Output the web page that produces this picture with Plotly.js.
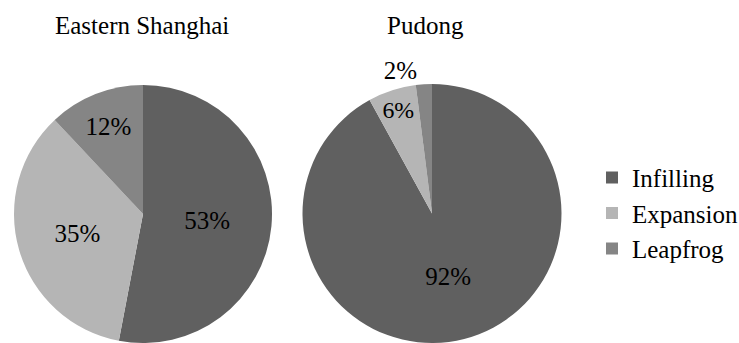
<!DOCTYPE html>
<html>
<head>
<meta charset="utf-8">
<script src="https://cdn.plot.ly/plotly-3.0.1.min.js"></script>
<style>html,body{margin:0;padding:0;background:#fff;}#chart{width:739px;height:343px;}</style>
</head>
<body>
<div id="chart"></div>
<script>
const categories = ["Infilling", "Expansion", "Leapfrog"];
const easternShanghai = [53, 35, 12];
const pudong = [92, 6, 2];
const regionTitles = ["Eastern Shanghai", "Pudong"];
const sliceColors = ["#606060", "#b5b5b5", "#858585"];

const FONT = "Liberation Serif";
const FS = 25;

const traces = [
  {
    type: "pie",
    labels: categories,
    values: easternShanghai,
    sort: false,
    direction: "clockwise",
    rotation: 0,
    marker: {colors: sliceColors, line: {width: 0}},
    texttemplate: "%{value}%",
    textposition: "inside",
    insidetextorientation: "horizontal",
    textfont: {family: FONT, size: FS, color: "#000"},
    domain: {x: [14/739, 272/739], y: [0, 258/343]},
    hoverinfo: "none",
    showlegend: true
  },
  {
    type: "pie",
    labels: categories,
    values: pudong,
    sort: false,
    direction: "clockwise",
    rotation: 0,
    marker: {colors: sliceColors, line: {width: 0}},
    texttemplate: "%{value}%",
    textposition: ["inside", "inside", "outside"],
    insidetextorientation: "horizontal",
    textfont: {family: FONT, size: FS, color: "#000"},
    outsidetextfont: {family: FONT, size: FS, color: "#000"},
    domain: {x: [300/739, 564/739], y: [0, 259/343]},
    hoverinfo: "none",
    showlegend: false
  }
];

const layout = {
  width: 739,
  height: 343,
  margin: {l: 0, r: 0, t: 0, b: 0, autoexpand: false},
  paper_bgcolor: "#fff",
  plot_bgcolor: "#fff",
  font: {family: FONT, size: FS, color: "#000"},
  showlegend: true,
  legend: {
    x: 592/739, xanchor: "left",
    y: 0.378, yanchor: "middle",
    font: {family: FONT, size: FS, color: "#000"},
    bgcolor: "rgba(0,0,0,0)"
  },
  annotations: [
    {text: regionTitles[0], x: 142/739, y: 1 - 25/343, xref: "paper", yref: "paper", xanchor: "center", yanchor: "middle", showarrow: false, font: {family: FONT, size: FS, color: "#000"}},
    {text: regionTitles[1], x: 425/739, y: 1 - 25/343, xref: "paper", yref: "paper", xanchor: "center", yanchor: "middle", showarrow: false, font: {family: FONT, size: FS, color: "#000"}}
  ]
};

Plotly.newPlot("chart", traces, layout, {displayModeBar: false, staticPlot: true});
</script>
</body>
</html>
